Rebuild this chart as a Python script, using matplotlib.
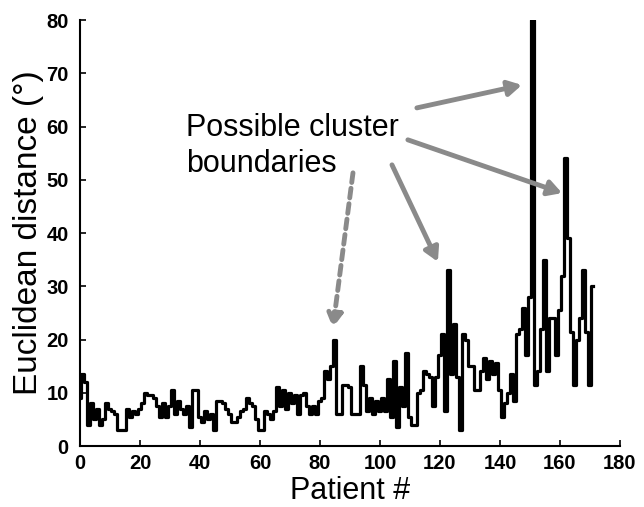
import numpy as np
import matplotlib
matplotlib.use("Agg")
import matplotlib.pyplot as plt

# Euclidean distance between consecutive patients
distance = [
    9, 13.5, 12, 4, 8, 5, 7, 4, 5, 8,
    7, 6.5, 6, 3, 3, 3, 7, 5.5, 6.5, 6,
    7, 8, 10, 9.5, 9.5, 9, 7.5, 5.5, 8, 5.5,
    7.5, 10.5, 6, 8.5, 7, 6, 7.5, 3.5, 10.5, 10.5,
    5.5, 4.5, 6.5, 5, 6, 3, 8.5, 8.5, 8, 7,
    6, 4.5, 4.5, 5.5, 6.5, 7, 9, 8, 7.5, 5,
    3, 3, 6.5, 6, 5, 6.5, 11, 7.5, 10.5, 7,
    10, 8, 9.5, 6, 9.5, 10, 7.5, 6, 7.5, 6,
    8.5, 9, 14, 12.5, 15, 20, 6, 6, 11.5, 11.5,
    11, 6, 6, 6, 15, 11.5, 6.5, 9, 6, 8.5,
    6.5, 9, 6.5, 12.5, 5.5, 16, 3.5, 11, 7.5, 17.5,
    5.5, 4, 4, 10, 10.5, 14, 13.5, 13, 7.5, 13,
    17, 21, 6.5, 33, 13.5, 23, 13, 3, 21, 20,
    15, 15, 10.5, 10.5, 14, 16.5, 12.5, 16, 13.5, 15.5,
    10.5, 5.5, 8, 10, 13.5, 8.5, 21, 22, 26, 17,
    28, 80, 11.5, 14, 22, 35, 14, 24, 24, 17,
    25.5, 32, 54, 39, 21.5, 11.5, 20, 24, 33, 21.5,
    11.5, 30,
]
patient = np.arange(len(distance))

x_ticks = [0, 20, 40, 60, 80, 100, 120, 140, 160, 180]
y_ticks = [0, 10, 20, 30, 40, 50, 60, 70, 80]

# arrows: (tail, tip) in data coordinates
arrow_dashed = ((91, 51.3), (84.3, 22.2))
arrows_solid = [
    ((104, 52.8), (119.3, 34.6)),
    ((112.3, 63.5), (147.3, 67.8)),
    ((109.3, 57.5), (160.7, 47.5)),
]

label_font = ["Liberation Sans", "DejaVu Sans"]
tick_font = ["Liberation Sans", "DejaVu Sans"]

fig = plt.figure(figsize=(6.44, 5.07), dpi=100)
fig.patch.set_facecolor("white")
ax = fig.add_axes([0.1242, 0.1203, 0.8385, 0.8402])

ax.step(patient, distance, where="mid", color="black", linewidth=2.3)

ax.set_xlim(0, 180)
ax.set_ylim(0, 80)
ax.set_xticks(x_ticks)
ax.set_yticks(y_ticks)
ax.tick_params(direction="in", length=4, width=1.2, labelsize=14.5)
ax.tick_params(axis="y", pad=8)
ax.tick_params(axis="x", pad=6)
for lab in ax.get_xticklabels() + ax.get_yticklabels():
    lab.set_family(tick_font)
    lab.set_fontweight("bold")

ax.spines["top"].set_visible(False)
ax.spines["right"].set_visible(False)
ax.spines["left"].set_linewidth(1.5)
ax.spines["bottom"].set_linewidth(1.5)

ax.set_xlabel("Patient #", fontsize=22, family=label_font, labelpad=2)
ax.set_ylabel("Euclidean distance (°)", fontsize=24, family=label_font, labelpad=2)

ax.text(35.5, 62.5, "Possible cluster\nboundaries", fontsize=22,
        family=label_font, ha="left", va="top", linespacing=1.25)

grey = "#8a8a8a"
ax.annotate("", xy=arrow_dashed[1], xytext=arrow_dashed[0],
            arrowprops=dict(arrowstyle="-|>,head_length=0.8,head_width=0.45",
                            color=grey, lw=3.5, linestyle=(0, (2, 1.2)),
                            shrinkA=0, shrinkB=0))
for tail, tip in arrows_solid:
    ax.annotate("", xy=tip, xytext=tail,
                arrowprops=dict(arrowstyle="-|>,head_length=0.8,head_width=0.45",
                                color=grey, lw=3.5, shrinkA=0, shrinkB=0))

fig.savefig("out.png", dpi=100, facecolor="white")
